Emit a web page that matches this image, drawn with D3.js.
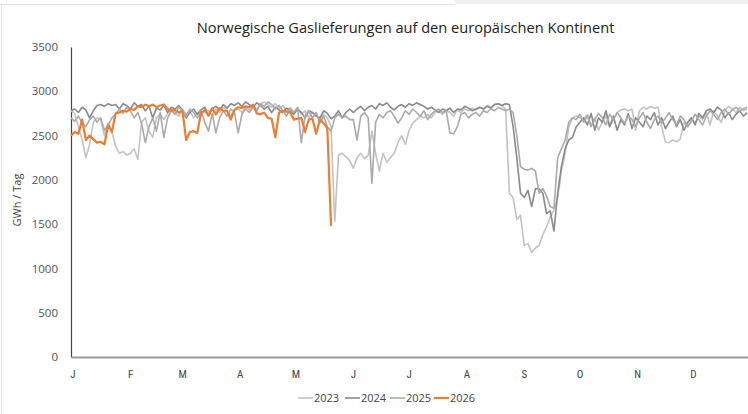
<!DOCTYPE html>
<html>
<head>
<meta charset="utf-8">
<script src="https://cdn.jsdelivr.net/npm/d3@7"></script>
<style>
  html, body { margin: 0; padding: 0; background: #fff; }
  svg { display: block; }
</style>
</head>
<body>
<svg id="chart" width="748" height="414"></svg>
<script>
// ---------- DATA (values in GWh / Tag, one value every 2 days starting 1 Jan) ----------
const title = "Norwegische Gaslieferungen auf den europäischen Kontinent";
const yLabel = "GWh / Tag";
const yTicks = [0, 500, 1000, 1500, 2000, 2500, 3000, 3500];
const monthLabels = ["J", "F", "M", "A", "M", "J", "J", "A", "S", "O", "N", "D"];
const monthStartDays = [0, 31, 59, 90, 120, 151, 181, 212, 243, 273, 304, 334];
const seriesNames = ["2023", "2024", "2025", "2026"];
const dayStep = 2;

const values2023 = [
  2780, 2750, 2600, 2450, 2250, 2400, 2650, 2700, 2680, 2500,
  2640, 2550, 2380, 2300, 2320, 2280, 2300, 2350, 2230, 2650,
  2700, 2550, 2480, 2700, 2740, 2680, 2750, 2800, 2760, 2720,
  2800, 2740, 2780, 2700, 2760, 2720, 2800, 2780, 2720, 2800,
  2760, 2820, 2780, 2720, 2790, 2800, 2760, 2820, 2790, 2840,
  2800, 2860, 2880, 2850, 2820, 2860, 2800, 2840, 2780, 2820,
  2760, 2800, 2740, 2780, 2700, 2760, 2720, 2680, 2740, 2700,
  2600, 1530, 2280, 2300, 2260, 2220, 2130, 2250, 2300, 2240,
  2280, 2550, 2300, 2100, 2300, 2200, 2250, 2300, 2420, 2500,
  2400, 2560, 2640, 2680, 2720, 2700, 2740, 2700, 2760, 2780,
  2740, 2780, 2760, 2720, 2790, 2760, 2800, 2780, 2810, 2790,
  2820, 2800, 2840, 2820, 2850, 2860, 2840, 2800, 1850, 1800,
  1550, 1600, 1260, 1280, 1180, 1230, 1260, 1380, 1470, 1580,
  1660, 1800, 2100, 2300, 2600, 2700, 2720, 2700, 2680, 2740,
  2620, 2700, 2560, 2650, 2720, 2600, 2680, 2760, 2790, 2800,
  2780, 2800, 2560, 2780, 2820, 2800, 2830, 2810, 2820, 2600,
  2430, 2420, 2450, 2430, 2460, 2650, 2600, 2700, 2640, 2720,
  2680, 2760, 2620, 2780, 2720, 2650, 2780, 2830, 2800, 2760,
  2820, 2780, 2800
];
const values2024 = [
  2780, 2800, 2760, 2820, 2790, 2700, 2780, 2840, 2850, 2830,
  2860, 2840, 2850, 2800, 2860, 2840, 2800, 2870, 2830, 2850,
  2780, 2830, 2700, 2810, 2790, 2840, 2760, 2820, 2800, 2840,
  2780, 2700, 2760, 2800, 2740, 2790, 2820, 2720, 2800, 2830,
  2790, 2850, 2810, 2860, 2840, 2870, 2830, 2880, 2850, 2820,
  2870, 2840, 2800, 2830, 2760, 2820, 2790, 2760, 2810, 2780,
  2740, 2800, 2760, 2700, 2780, 2760, 2720, 2700, 2780, 2750,
  2690, 2720, 2780, 2700, 2760, 2800, 2760, 2800, 2830, 2780,
  2820, 2840, 2800, 2860, 2840, 2870, 2820, 2790, 2830, 2850,
  2820, 2860, 2840, 2870, 2850, 2830, 2800, 2820, 2790, 2760,
  2800, 2780, 2810, 2760, 2800, 2790, 2830, 2810, 2780, 2800,
  2820, 2800, 2830, 2810, 2850, 2860, 2840, 2860, 2850, 2600,
  2250, 1850, 1800, 1880, 1700, 1900, 1900, 1850, 1620, 1650,
  1420, 1850, 2150, 2350, 2450, 2480, 2600, 2650, 2700, 2620,
  2750, 2560, 2700, 2650, 2780, 2600, 2720, 2560, 2680, 2620,
  2750, 2580, 2700, 2650, 2600, 2720, 2680, 2760, 2620, 2700,
  2580, 2650, 2720, 2600, 2680, 2560, 2650, 2700, 2620, 2750,
  2700, 2780, 2800, 2760, 2820, 2790, 2700, 2760, 2680, 2740,
  2780, 2720, 2760
];
const values2025 = [
  2700, 2660, 2720, 2640, 2600, 2680, 2720, 2650, 2700, 2560,
  2620, 2700, 2740, 2800, 2750, 2820, 2780, 2700, 2760, 2640,
  2420, 2600, 2700, 2550, 2760, 2480, 2700, 2780, 2740, 2820,
  2780, 2720, 2800, 2760, 2700, 2780, 2650, 2550, 2750, 2530,
  2700, 2780, 2720, 2800, 2760, 2530, 2740, 2800, 2760, 2820,
  2780, 2860, 2830, 2880, 2850, 2800, 2840, 2780, 2720, 2800,
  2760, 2820, 2420, 2720, 2780, 2700, 2760, 2640, 2720, 2600,
  2550, 2700, 2740, 2700, 2720, 2680, 2680, 2450, 2720, 2760,
  2700, 1960, 2650, 2740, 2700, 2760, 2780, 2720, 2640, 2700,
  2780, 2740, 2800, 2760, 2720, 2780, 2680, 2740, 2780, 2800,
  2760, 2780, 2530, 2520, 2600, 2740, 2760, 2700, 2740, 2760,
  2720, 2780, 2760, 2800, 2780, 2820, 2800, 2780, 2800, 2760,
  2500, 2150, 2120, 2110, 2130, 2100, 1850, 1900, 1820, 1700,
  1680, 2250, 2350, 2450, 2650, 2700, 2680, 2740, 2650, 2720,
  2600, 2680, 2750, 2700, 2620, 2740, 2680, 2760, 2700, 2640,
  2720, 2680, 2600, 2700, 2760, 2650, 2580, 2680, 2720, 2640,
  2700, 2760, 2680, 2620, 2720, 2680, 2600, 2660, 2740, 2680,
  2620, 2720, 2780, 2740, 2680, 2760, 2800, 2740, 2790, 2820,
  2780, 2800, 2820
];
const values2026 = [
  2500, 2540, 2520, 2680, 2450, 2500, 2460, 2420, 2430, 2400,
  2620, 2540, 2750, 2760, 2780, 2770, 2800, 2790, 2830, 2820,
  2850, 2830, 2850, 2820, 2840, 2850, 2800, 2780, 2790, 2760,
  2780, 2450, 2540, 2550, 2530, 2760, 2780, 2730, 2810, 2740,
  2810, 2780, 2780, 2680, 2790, 2820, 2810, 2830, 2820, 2850,
  2750, 2740, 2760, 2700, 2690, 2480, 2760, 2780, 2770, 2760,
  2680, 2690, 2700, 2540, 2680, 2690, 2520, 2680, 2640, 2580,
  1480
];
const seriesValues = [values2023, values2024, values2025, values2026];
const seriesColors = ["#c3c3c3", "#8a8a8a", "#aaaaaa", "#ed7d31"];
const seriesWidths = [1.6, 1.6, 1.6, 2.2];

// ---------- LAYOUT ----------
const W = 748, H = 414;
const svg = d3.select("#chart");

// page frame artefacts
svg.append("rect").attr("x", 455).attr("y", 0).attr("width", 293).attr("height", 4).attr("fill", "#f0f0f0");
svg.append("line").attr("x1", 0).attr("x2", 455).attr("y1", 4.5).attr("y2", 4.5).attr("stroke", "#e4e4e4");
svg.append("line").attr("x1", 1.5).attr("x2", 1.5).attr("y1", 4).attr("y2", H).attr("stroke", "#e6e6e6");

const x = d3.scaleLinear().domain([0, 365]).range([71, 749]);
const y = d3.scaleLinear().domain([0, 3500]).range([357, 47]);

// title
svg.append("text")
  .attr("x", 405.5).attr("y", 33)
  .attr("text-anchor", "middle")
  .attr("font-family", "'Open Sans', sans-serif")
  .attr("font-size", 14.6)
  .attr("fill", "#222")
  .text(title);

// y axis
const yAxis = svg.append("g")
  .attr("transform", "translate(71,0)")
  .call(d3.axisLeft(y).tickValues(yTicks).tickSize(0).tickPadding(13).tickFormat(d3.format("d")));
yAxis.select(".domain").attr("stroke", "#444").attr("stroke-width", 1.2);
yAxis.selectAll("text")
  .attr("font-family", "'Open Sans', sans-serif")
  .attr("font-size", 11.5)
  .attr("fill", "#555");

svg.append("text")
  .attr("transform", "translate(21,200) rotate(-90)")
  .attr("text-anchor", "middle")
  .attr("font-family", "'Open Sans', sans-serif")
  .attr("font-size", 11)
  .attr("fill", "#444")
  .text(yLabel);

// x axis
const xAxis = svg.append("g")
  .attr("transform", "translate(0,357)")
  .call(d3.axisBottom(x).tickValues(monthStartDays).tickSize(0).tickPadding(13)
    .tickFormat((d, i) => monthLabels[i]));
xAxis.select(".domain").attr("stroke", "#9a9a9a").attr("stroke-width", 2);
xAxis.selectAll("text")
  .attr("dx", 1.5)
  .attr("font-family", "'Roboto Condensed', 'Open Sans', sans-serif")
  .attr("font-size", 11)
  .attr("fill", "#444");

// lines
const line = d3.line()
  .x((d, i) => x(i * dayStep))
  .y(d => y(d));

seriesValues.forEach((vals, k) => {
  svg.append("path")
    .datum(vals)
    .attr("fill", "none")
    .attr("stroke", seriesColors[k])
    .attr("stroke-width", seriesWidths[k])
    .attr("stroke-linejoin", "round")
    .attr("d", line);
});

// legend
const legendX = [298, 345, 390, 434];
const legend = svg.append("g").attr("transform", "translate(0,398)");
seriesNames.forEach((name, k) => {
  const g = legend.append("g").attr("transform", `translate(${legendX[k]},0)`);
  g.append("line").attr("x1", 0).attr("x2", 15).attr("y1", 0).attr("y2", 0)
    .attr("stroke", seriesColors[k]).attr("stroke-width", k === 3 ? 2.2 : 1.6);
  g.append("text").attr("x", 16).attr("y", 4)
    .attr("font-family", "'Open Sans', sans-serif")
    .attr("font-size", 11)
    .attr("fill", "#444")
    .text(name);
});
</script>
</body>
</html>
